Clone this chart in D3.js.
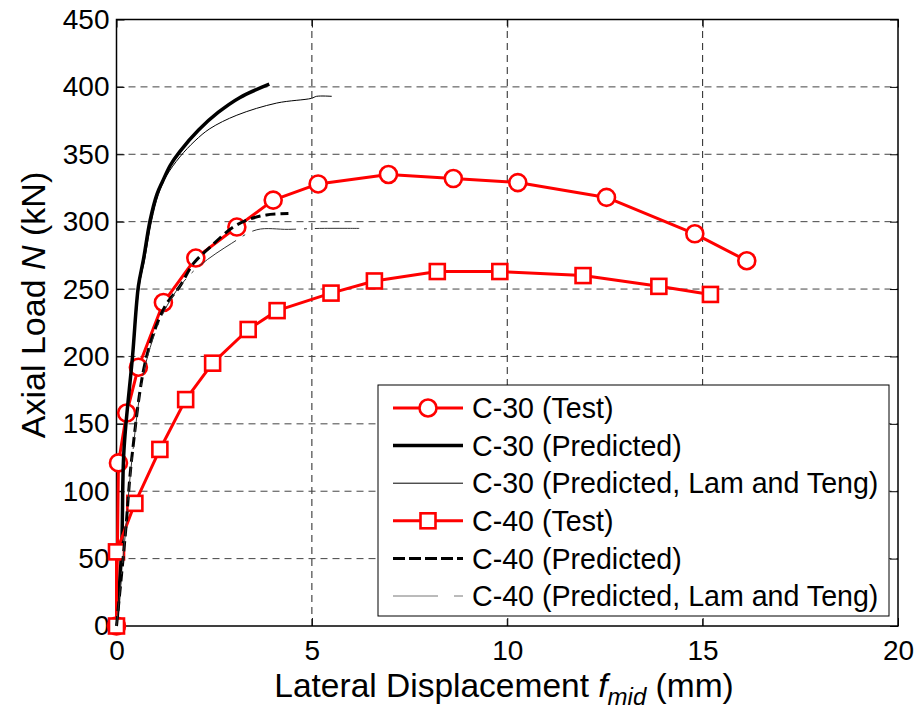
<!DOCTYPE html>
<html>
<head>
<meta charset="utf-8">
<script src="https://cdn.jsdelivr.net/npm/d3@7"></script>
<style>
body { margin: 0; background: #fff; }
text { font-family: "Liberation Sans", Arial, sans-serif; fill: #000; }
</style>
</head>
<body>
<div id="chart-area"></div>
<script>
// values: [lateral displacement (mm), axial load (kN)]
const c30Test = [[0,0],[0.05,121],[0.26,158],[0.56,192],[1.2,240],[2.03,273],[3.08,296],[4.01,316],[5.16,328],[6.96,335],[8.62,332],[10.27,329],[12.54,318],[14.8,291],[16.13,271]];
const c30Pred = [[0,0],[0.13,56],[0.19,130],[0.41,200],[0.56,252],[0.69,272],[0.86,301],[1.03,320],[1.18,330],[1.38,342],[1.62,352],[2.1,368],[2.6,381],[3.15,392],[3.91,402]];
const c30Lam = [[0,0],[0.14,60],[0.2,130],[0.42,200],[0.58,252],[0.72,272],[0.9,301],[1.07,320],[1.28,334],[1.62,348],[2.01,360],[2.39,369],[3.08,379],[4.1,388],[4.99,391.5],[5.12,393],[5.51,393]];
const c40Test = [[0,0],[0,55],[0.47,91],[1.11,131],[1.77,168],[2.46,195],[3.37,220],[4.11,234],[5.49,247],[6.6,256],[8.21,263],[9.81,263],[11.94,260],[13.88,252],[15.2,246]];
const c40Pred = [[0,0],[0.22,66],[0.4,127],[0.77,200],[1.24,237],[1.62,252],[1.97,269],[2.39,281],[2.99,296],[3.42,302],[3.84,305],[4.4,306]];
const c40Lam = [[0,0],[0.2,60],[0.4,125],[0.75,195],[1.3,238],[1.96,263],[2.95,284],[3.59,294],[4.4,294.3],[5.2,295],[6.23,295]];

const xTicks = [0, 5, 10, 15, 20];
const yTicks = [0, 50, 100, 150, 200, 250, 300, 350, 400, 450];
const legendLabels = ["C-30 (Test)", "C-30 (Predicted)", "C-30 (Predicted, Lam and Teng)",
	"C-40 (Test)", "C-40 (Predicted)", "C-40 (Predicted, Lam and Teng)"];

const width = 919;
const height = 716;
const margin = {top: 19.5, right: 21, bottom: 90, left: 116.5};

var svg = d3.select("#chart-area").append("svg")
	.attr("width", width)
	.attr("height", height);

var x = d3.scaleLinear()
	.domain([0, 20])
	.range([margin.left, width - margin.right]);

var y = d3.scaleLinear()
	.domain([0, 450])
	.range([height - margin.bottom, margin.top]);

// grid
svg.append("g")
	.selectAll("line")
	.data(xTicks.slice(1, -1))
	.enter().append("line")
	.attr("x1", d => x(d)).attr("x2", d => x(d))
	.attr("y1", y(0)).attr("y2", y(450))
	.attr("stroke", "#222").attr("stroke-width", 1)
	.attr("stroke-dasharray", "7,5");

svg.append("g")
	.selectAll("line")
	.data(yTicks.slice(1, -1))
	.enter().append("line")
	.attr("x1", x(0)).attr("x2", x(20))
	.attr("y1", d => y(d)).attr("y2", d => y(d))
	.attr("stroke", "#444").attr("stroke-width", 1)
	.attr("stroke-dasharray", "7,5");

// axes with inward ticks on all sides
function styleAxis(g) {
	g.select(".domain").remove();
	g.selectAll(".tick line").attr("stroke", "#000");
	g.selectAll("text").attr("font-size", 28).attr("font-family", "Liberation Sans, Arial, sans-serif");
}

svg.append("g")
	.attr("transform", `translate(0,${y(0)})`)
	.call(d3.axisBottom(x).tickValues(xTicks).tickSize(-8).tickPadding(14))
	.call(styleAxis);

svg.append("g")
	.attr("transform", `translate(${x(0)},0)`)
	.call(d3.axisLeft(y).tickValues(yTicks).tickSize(-8).tickPadding(7))
	.call(styleAxis);

svg.append("g")
	.attr("transform", `translate(0,${y(450)})`)
	.call(d3.axisTop(x).tickValues(xTicks).tickSize(-8).tickFormat(""))
	.call(styleAxis);

svg.append("g")
	.attr("transform", `translate(${x(20)},0)`)
	.call(d3.axisRight(y).tickValues(yTicks).tickSize(-8).tickFormat(""))
	.call(styleAxis);

svg.append("rect")
	.attr("x", x(0)).attr("y", y(450))
	.attr("width", x(20) - x(0)).attr("height", y(0) - y(450))
	.attr("fill", "none").attr("stroke", "#000").attr("stroke-width", 1.5);

// series
var line = d3.line()
	.x(d => x(d[0]))
	.y(d => y(d[1]));

var smoothLine = d3.line()
	.x(d => x(d[0]))
	.y(d => y(d[1]))
	.curve(d3.curveCatmullRom.alpha(0.5));

const series = [
	{data: c30Test, color: "red", width: 3, dash: null, marker: "circle"},
	{data: c30Pred, color: "#000", width: 3.5, dash: null, smooth: true},
	{data: c30Lam, color: "#000", width: 1, dash: null, smooth: true},
	{data: c40Test, color: "red", width: 3, dash: null, marker: "square"},
	{data: c40Pred, color: "#000", width: 3, dash: "10,5", smooth: true},
	{data: c40Lam, color: "#333", width: 1, dash: "44,8,3,8", smooth: true}
];

function drawMarker(g, type, cx, cy) {
	if (type === "circle") {
		g.append("circle")
			.attr("cx", cx).attr("cy", cy).attr("r", 8.5)
			.attr("fill", "#fff").attr("stroke", "red").attr("stroke-width", 2.6);
	} else if (type === "square") {
		g.append("rect")
			.attr("x", cx - 7.5).attr("y", cy - 7.5)
			.attr("width", 15).attr("height", 15)
			.attr("fill", "#fff").attr("stroke", "red").attr("stroke-width", 2.6);
	}
}

series.forEach(s => {
	svg.append("path")
		.datum(s.data)
		.attr("fill", "none")
		.attr("stroke", s.color)
		.attr("stroke-width", s.width)
		.attr("stroke-dasharray", s.dash)
		.attr("stroke-linejoin", "round")
		.attr("d", s.smooth ? smoothLine : line);
	if (s.marker) {
		var mg = svg.append("g");
		s.data.forEach(d => drawMarker(mg, s.marker, x(d[0]), y(d[1])));
	}
});

// legend
var legend = svg.append("g");
legend.append("rect")
	.attr("x", 378).attr("y", 385)
	.attr("width", 511).attr("height", 231)
	.attr("fill", "#fff").attr("stroke", "#000").attr("stroke-width", 1);

series.forEach((s, i) => {
	var ly = 408 + i * 37.6;
	legend.append("line")
		.attr("x1", 393).attr("x2", 463)
		.attr("y1", ly).attr("y2", ly)
		.attr("stroke", i === 5 ? "#777" : s.color)
		.attr("stroke-width", s.width)
		.attr("stroke-dasharray", i === 4 ? "12,4" : i === 5 ? "45,16,10" : s.dash);
	if (s.marker) drawMarker(legend, s.marker, 428, ly);
	legend.append("text")
		.attr("x", 472).attr("y", ly)
		.attr("dy", "0.36em")
		.attr("font-size", 28.6)
		.text(legendLabels[i]);
});

// axis titles
var xl = svg.append("text")
	.attr("x", 504).attr("y", 697)
	.attr("text-anchor", "middle")
	.attr("font-size", 33.5);
xl.append("tspan").text("Lateral Displacement ");
xl.append("tspan").attr("font-style", "italic").text("f");
xl.append("tspan").attr("font-style", "italic").attr("font-size", 24).attr("dy", 8).text("mid");
xl.append("tspan").attr("dy", -8).text(" (mm)");

var yl = svg.append("text")
	.attr("transform", "translate(45,305) rotate(-90)")
	.attr("text-anchor", "middle")
	.attr("font-size", 34);
yl.append("tspan").text("Axial Load ");
yl.append("tspan").attr("font-style", "italic").text("N");
yl.append("tspan").text(" (kN)");
</script>
</body>
</html>
